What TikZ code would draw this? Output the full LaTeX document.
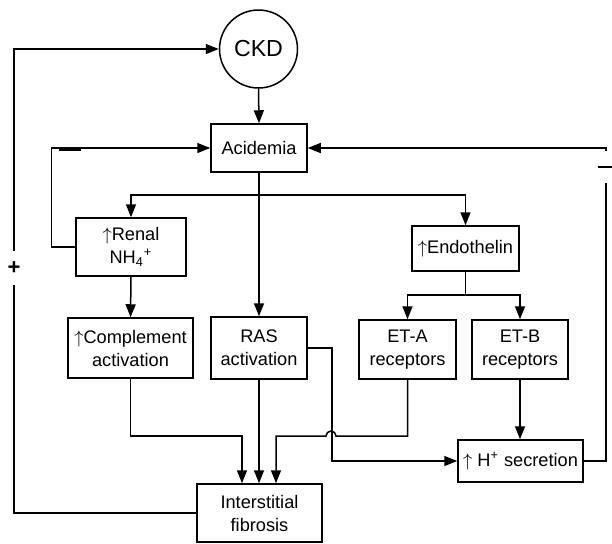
\documentclass[tikz,border=0pt]{standalone}
\usepackage{fontspec}
\setmainfont{Liberation Sans}
\usetikzlibrary{arrows.meta,calc}
\begin{document}
\begin{tikzpicture}[x=0.5pt, y=-0.5pt, line width=0.75pt, >={Triangle[length=6.5pt,width=5pt]},
  every node/.style={font=\fontsize{9.1}{11.5}\selectfont, align=center, inner sep=0pt},
  box/.style={draw, rectangle},
  sign/.style={minimum height=15pt}]
  \useasboundingbox (0,0) rectangle (612,543);
  \node[draw, circle, minimum size=39pt, font=\fontsize{11.6}{14}\selectfont] (ckd) at (258.5,49) {CKD};
  \node[box, minimum width=48pt, minimum height=24pt] (acid) at (259,148) {Acidemia};
  \node[box, minimum width=55pt, minimum height=29pt] (renal) at (131,247) {$\uparrow$Renal\\NH\textsubscript{4}\textsuperscript{+}};
  \node[box, minimum width=53.5pt, minimum height=22.5pt] (endo) at (465.5,248.5) {$\uparrow$Endothelin};
  \node[box, minimum width=62.5pt, minimum height=30pt] (compl) at (130.5,348) {$\uparrow$Complement\\activation};
  \node[box, minimum width=48pt, minimum height=31pt] (ras) at (259,348) {RAS\\activation};
  \node[box, minimum width=48.5pt, minimum height=29.5pt] (eta) at (407.5,349.5) {ET-A\\receptors};
  \node[box, minimum width=48pt, minimum height=29.5pt] (etb) at (520,349.5) {ET-B\\receptors};
  \node[box, minimum width=62.5pt, minimum height=21pt] (hsec) at (520.5,461) {$\uparrow$ H\textsuperscript{+} secretion};
  \node[box, minimum width=62.5pt, minimum height=29pt] (fib) at (259.5,513) {Interstitial\\fibrosis};
  \node[sign] (mr) at (606,167) {\rule{8pt}{1.4pt}};
  \node[sign, minimum height=16pt, font=\fontsize{11}{12}\bfseries] (plus) at (14,268) {+};
  \coordinate (split) at (259,195);
  \coordinate (esplit) at (465.5,295);
  \draw[->] (ckd.south) -- (acid.north);
  \draw[->] (acid.south) -- (ras.north);
  \draw[->] (split) -| (renal.north);
  \draw[->] (split) -| (endo.north);
  \draw[->] (renal.south) -- (compl.north);
  \draw (endo.south) -- (esplit);
  \draw[->] (esplit) -| (eta.north);
  \draw[->] (esplit) -| (etb.north);
  \draw[->] (etb.south) -- (etb.south |- hsec.north);
  \draw[->] (compl.south) |- (242,436) -- ($(fib.north)+(-17.5,0)$);
  \draw[->] (ras.south) -- (ras.south |- fib.north);
  \draw[->] (eta.south) |- (336,436) arc[start angle=0, end angle=180, radius=2.5pt] -| ($(fib.north)+(16.5,0)$);
  \draw[->] (ras.east) -- ++(24,0) |- (hsec.west);
  \draw[->] (renal.west) -- ++(-24,0) |- (acid.west);
  \fill (59,146.5) rectangle (81,150.5);
  \draw (hsec.east) -| (mr.south);
  \draw[->] (mr.north) |- (acid.east);
  \draw (fib.west) -| (plus.south);
  \draw[->] (plus.north) |- (ckd.west);
\end{tikzpicture}
\end{document}
